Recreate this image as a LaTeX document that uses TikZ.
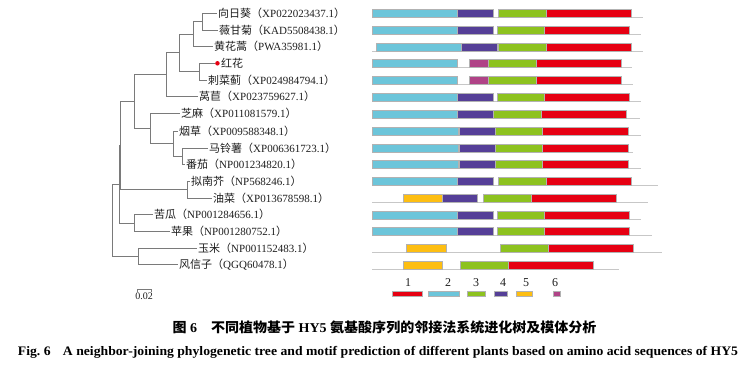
\documentclass[tikz,border=0pt]{standalone}
\usepackage{fontspec}
\usepackage{graphicx}
\setmainfont{Liberation Serif}
\newfontfamily\cjk{Noto Sans CJK SC}
\definecolor{mred}{HTML}{E60012}
\definecolor{mcyan}{HTML}{6CC5DA}
\definecolor{mpurple}{HTML}{553F97}
\definecolor{mgreen}{HTML}{8DC21F}
\definecolor{myellow}{HTML}{FDBE12}
\definecolor{mmag}{HTML}{B04387}
\definecolor{treeg}{HTML}{7A7A7A}
\definecolor{txt}{HTML}{1E1E1E}
\newcommand\lab[2]{{\cjk #1（}#2{\cjk ）}}
\newcommand\mbar[4]{\filldraw[mbox, fill=#4] (#2,#1-4) rectangle (#3,#1+4);}
\newcommand\mbase[2]{\draw[mline] (372,#1+4.3) -- (#2,#1+4.3);}
\tikzset{
  branch/.style={draw=treeg, line width=0.9pt},
  leaf/.style={anchor=west, inner sep=1pt, font=\fontsize{11}{13}\selectfont, text=txt},
  mbox/.style={draw=black!30, line width=0.4pt},
  mline/.style={draw=black!22, line width=1pt},
  legnum/.style={font=\fontsize{12}{14}\selectfont, text=txt, inner sep=0pt},
}
\begin{document}
\begin{tikzpicture}[x=1pt, y=-1pt]
\useasboundingbox (0,0) rectangle (750,365);
\fill[white] (0,0) rectangle (750,365);

% ---------------- tree: internal nodes
\coordinate (N4) at (202,21.65);
\coordinate (N2) at (193,34.2);
\coordinate (N3) at (199,71.65);
\coordinate (N1) at (179,52.9);
\coordinate (Ast) at (166,74.8);
\coordinate (N6) at (182,156.25);
\coordinate (N5) at (173,143.7);
\coordinate (Sol) at (150,128.75);
\coordinate (AS) at (134,101.8);
\coordinate (Br) at (187,189.6);
\coordinate (A) at (120,145.7);
\coordinate (C) at (134,223);
\coordinate (B) at (119,184.35);
\coordinate (M) at (138,256.35);
\coordinate (R) at (112,220.35);

% ---------------- leaves
\node[leaf] (l1) at (217,13.3) {\lab{向日葵}{XP022023437.1}};
\node[leaf] (l2) at (218,30) {\lab{薇甘菊}{KAD5508438.1}};
\node[leaf] (l3) at (213,46.7) {\lab{黄花蒿}{PWA35981.1}};
\node[circle, fill=mred, inner sep=0pt, minimum size=4.5pt, anchor=west] (dot) at (215,63.3) {};
\node[leaf] (l4) at (dot.east) {{\cjk 红花}};
\node[leaf] (l5) at (207,80) {\lab{刺菜蓟}{XP024984794.1}};
\node[leaf] (l6) at (198,96.7) {\lab{莴苣}{XP023759627.1}};
\node[leaf] (l7) at (180,113.8) {\lab{芝麻}{XP011081579.1}};
\node[leaf] (l8) at (178,131.2) {\lab{烟草}{XP009588348.1}};
\node[leaf] (l9) at (208,148) {\lab{马铃薯}{XP006361723.1}};
\node[leaf] (l10) at (185,164.5) {\lab{番茄}{NP001234820.1}};
\node[leaf] (l11) at (190,181.2) {\lab{拟南芥}{NP568246.1}};
\node[leaf] (l12) at (212,198) {\lab{油菜}{XP013678598.1}};
\node[leaf] (l13) at (153,214.7) {\lab{苦瓜}{NP001284656.1}};
\node[leaf] (l14) at (170,231.3) {\lab{苹果}{NP001280752.1}};
\node[leaf] (l15) at (197,248) {\lab{玉米}{NP001152483.1}};
\node[leaf] (l16) at (178,264.7) {\lab{风信子}{QGQ60478.1}};

% ---------------- branches
\draw[branch] (N4) |- (l1.west);
\draw[branch] (N4) |- (l2.west);
\draw[branch] (N2) |- (N4);
\draw[branch] (N2) |- (l3.west);
\draw[branch] (N3) |- (dot.west);
\draw[branch] (N3) |- (l5.west);
\draw[branch] (N1) |- (N2);
\draw[branch] (N1) |- (N3);
\draw[branch] (Ast) |- (N1);
\draw[branch] (Ast) |- (l6.west);
\draw[branch] (N6) |- (l9.west);
\draw[branch] (N6) |- (l10.west);
\draw[branch] (N5) |- (l8.west);
\draw[branch] (N5) |- (N6);
\draw[branch] (Sol) |- (l7.west);
\draw[branch] (Sol) |- (N5);
\draw[branch] (AS) |- (Ast);
\draw[branch] (AS) |- (Sol);
\draw[branch] (Br) |- (l11.west);
\draw[branch] (Br) |- (l12.west);
\draw[branch] (A) |- (AS);
\draw[branch] (A) |- (Br);
\draw[branch] (C) |- (l13.west);
\draw[branch] (C) |- (l14.west);
\draw[branch] (B) |- (A);
\draw[branch] (B) |- (C);
\draw[branch] (M) |- (l15.west);
\draw[branch] (M) |- (l16.west);
\draw[branch] (R) |- (B);
\draw[branch] (R) |- (M);

% scale bar
\coordinate (sb1) at (137,289);
\coordinate (sb2) at (151,289);
\draw[branch, line width=0.7pt] ([yshift=-2.5pt]sb1) -- (sb1) -- (sb2) -- ([yshift=-2.5pt]sb2);
\node[font=\fontsize{10}{12}\selectfont, text=txt, inner sep=0pt] (sbl) at (144,296.5) {0.02};

% ---------------- motifs
% row 1
\mbase{13.3}{643}
\mbar{13.3}{372.3}{457.3}{mcyan}\mbar{13.3}{457.3}{493.3}{mpurple}\mbar{13.3}{498.3}{546}{mgreen}\mbar{13.3}{546}{631}{mred}
% row 2
\mbase{30}{641}
\mbar{30}{372}{457}{mcyan}\mbar{30}{457}{493.3}{mpurple}\mbar{30}{496.7}{544}{mgreen}\mbar{30}{544}{629.3}{mred}
% row 3
\mbase{46.7}{643}
\mbar{46.7}{375.7}{460.7}{mcyan}\mbar{46.7}{460.7}{496.7}{mpurple}\mbar{46.7}{498.3}{546}{mgreen}\mbar{46.7}{546}{631}{mred}
% row 4
\mbase{63.3}{632}
\mbar{63.3}{372}{457}{mcyan}\mbar{63.3}{469}{488.3}{mmag}\mbar{63.3}{488.3}{536}{mgreen}\mbar{63.3}{536}{621}{mred}
% row 5
\mbase{80}{633}
\mbar{80}{372}{457}{mcyan}\mbar{80}{469}{488.3}{mmag}\mbar{80}{488.3}{536}{mgreen}\mbar{80}{536}{621}{mred}
% row 6
\mbase{96.7}{641}
\mbar{96.7}{372}{457}{mcyan}\mbar{96.7}{457}{493.3}{mpurple}\mbar{96.7}{496.7}{544}{mgreen}\mbar{96.7}{544}{629.3}{mred}
% row 7
\mbase{113.8}{640}
\mbar{113.8}{372}{457}{mcyan}\mbar{113.8}{457}{493.3}{mpurple}\mbar{113.8}{493.3}{540.7}{mgreen}\mbar{113.8}{540.7}{626}{mred}
% row 8
\mbase{131.2}{641}
\mbar{131.2}{372}{457.7}{mcyan}\mbar{131.2}{459}{495}{mpurple}\mbar{131.2}{495}{542.3}{mgreen}\mbar{131.2}{542.3}{627.7}{mred}
% row 9
\mbase{148}{633}
\mbar{148}{372}{457.7}{mcyan}\mbar{148}{459}{495}{mpurple}\mbar{148}{495}{542.3}{mgreen}\mbar{148}{542.3}{627.7}{mred}
% row 10
\mbase{164.5}{641}
\mbar{164.5}{372}{457.7}{mcyan}\mbar{164.5}{459}{495}{mpurple}\mbar{164.5}{495}{542.3}{mgreen}\mbar{164.5}{542.3}{627.7}{mred}
% row 11
\mbase{181.2}{658}
\mbar{181.2}{372.3}{457.3}{mcyan}\mbar{181.2}{457.3}{493.3}{mpurple}\mbar{181.2}{498.3}{546}{mgreen}\mbar{181.2}{546}{631}{mred}
% row 12
\mbase{198}{648}
\mbar{198}{402.7}{442.3}{myellow}\mbar{198}{442.3}{477.3}{mpurple}\mbar{198}{483.3}{530.7}{mgreen}\mbar{198}{530.7}{615.7}{mred}
% row 13
\mbase{214.7}{641}
\mbar{214.7}{372}{457}{mcyan}\mbar{214.7}{457}{493.3}{mpurple}\mbar{214.7}{496.7}{544}{mgreen}\mbar{214.7}{544}{629.3}{mred}
% row 14
\mbase{231.3}{652}
\mbar{231.3}{372}{457}{mcyan}\mbar{231.3}{457}{493.3}{mpurple}\mbar{231.3}{496.7}{544}{mgreen}\mbar{231.3}{544}{629.3}{mred}
% row 15
\mbase{248}{662}
\mbar{248}{406}{445.7}{myellow}\mbar{248}{500}{547.7}{mgreen}\mbar{248}{547.7}{632.7}{mred}
% row 16
\mbase{264.7}{619}
\mbar{264.7}{402.7}{442.3}{myellow}\mbar{264.7}{460}{508.3}{mgreen}\mbar{264.7}{508.3}{593.3}{mred}

% ---------------- legend
\node[legnum] (n1) at (408,283) {1};
\node[legnum] (n2) at (448,283) {2};
\node[legnum] (n3) at (476,283) {3};
\node[legnum] (n4) at (503,283) {4};
\node[legnum] (n5) at (526,283) {5};
\node[legnum] (n6) at (555,283) {6};
\filldraw[mbox, fill=mred] (391.7,290.7) rectangle (422.3,296);
\filldraw[mbox, fill=mcyan] (428.3,290.7) rectangle (459,296);
\filldraw[mbox, fill=mgreen] (466.7,290.7) rectangle (485,296);
\filldraw[mbox, fill=mpurple] (494.3,290.7) rectangle (507.3,296);
\filldraw[mbox, fill=myellow] (516,290.7) rectangle (531.7,296);
\filldraw[mbox, fill=mmag] (552.7,290.7) rectangle (560,296);

% ---------------- captions
\node[inner sep=0pt, text=black] (cap1) at (384.5,327.5) {\resizebox{424pt}{\height}{\fontsize{13.5}{16}\selectfont\bfseries{\cjk 图}~6\hspace{1em}{\cjk 不同植物基于} HY5 {\cjk 氨基酸序列的邻接法系统进化树及模体分析}}};
\node[inner sep=0pt, text=black] (cap2) at (378,352) {\resizebox{720pt}{\height}{\fontsize{13}{15}\selectfont\bfseries Fig.~6\hspace{0.9em}A neighbor-joining phylogenetic tree and motif prediction of different plants based on amino acid sequences of HY5}};
\end{tikzpicture}
\end{document}
